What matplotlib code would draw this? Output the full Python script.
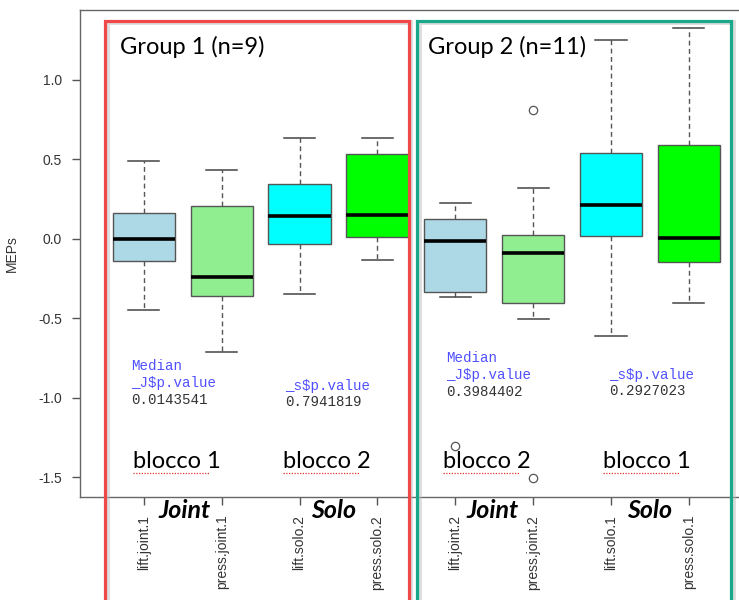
import matplotlib
matplotlib.use("Agg")
import matplotlib.pyplot as plt
from matplotlib.patches import Rectangle

# conditions, in plotting order
etichette = ["lift.joint.1", "press.joint.1", "lift.solo.2", "press.solo.2",
             "lift.joint.2", "press.joint.2", "lift.solo.1", "press.solo.1"]
colori = ["lightblue", "lightgreen", "cyan", "lime",
          "lightblue", "lightgreen", "cyan", "lime"]

# box statistics of MEPs per condition
mediane = [-0.004, -0.239, 0.145, 0.149, -0.016, -0.088, 0.212, 0.003]
q1 = [-0.142, -0.362, -0.035, 0.013, -0.333, -0.403, 0.019, -0.148]
q3 = [0.164, 0.204, 0.344, 0.533, 0.126, 0.025, 0.539, 0.587]
baffi_min = [-0.447, -0.711, -0.350, -0.134, -0.367, -0.507, -0.614, -0.406]
baffi_max = [0.487, 0.432, 0.631, 0.631, 0.225, 0.317, 1.252, 1.325]
outlier = [[], [], [], [], [-1.302], [0.809, -1.507], [], []]

# p-values of the median tests
pval_joint = ["0.0143541", "0.3984402"]
pval_solo = ["0.7941819", "0.2927023"]

W, H = 739, 600
fig = plt.figure(figsize=(W / 100, H / 100), dpi=100)


def fx(x):
    return x / W


def fy(y):
    return 1 - y / H


# axes box runs slightly off the right side of the canvas
ax = fig.add_axes([fx(80), fy(496.7), fx(752.7 - 80), fy(10) - fy(496.7)])

stats = []
for i in range(len(etichette)):
    stats.append({"med": mediane[i], "q1": q1[i], "q3": q3[i],
                  "whislo": baffi_min[i], "whishi": baffi_max[i],
                  "fliers": outlier[i], "label": etichette[i]})

bp = ax.bxp(stats, positions=range(1, 9), widths=0.8, patch_artist=True,
            showfliers=True,
            boxprops=dict(edgecolor="#555555", linewidth=1.0),
            medianprops=dict(color="black", linewidth=2.6, solid_capstyle="butt"),
            whiskerprops=dict(color="#555555", linewidth=1.0, linestyle=(0, (3.5, 2.5))),
            capprops=dict(color="#444444", linewidth=1.1),
            capwidths=0.4,
            flierprops=dict(marker="o", markersize=6, markerfacecolor="none",
                            markeredgecolor="#555555", markeredgewidth=0.9))
for box, c in zip(bp["boxes"], colori):
    box.set_facecolor(c)

ax.set_xlim(0.18, 8.82)
ax.set_ylim(-1.623, 1.438)
ax.set_yticks([-1.5, -1.0, -0.5, 0.0, 0.5, 1.0])
ax.set_yticklabels(["-1.5", "-1.0", "-0.5", "0.0", "0.5", "1.0"])
ax.set_xticks(range(1, 9))
ax.set_xticklabels(etichette, rotation=90, va="top")
ax.tick_params(axis="both", length=6, width=1.0, color="#555555",
               labelcolor="#333333", labelsize=10)
ax.tick_params(axis="y", pad=7)
ax.tick_params(axis="x", pad=7)
for lab in ax.get_xticklabels() + ax.get_yticklabels():
    lab.set_family("Liberation Sans")
ax.set_ylabel("MEPs", fontsize=10, color="#333333", family="Liberation Sans",
              labelpad=14)
for s in ["left", "top", "bottom", "right"]:
    ax.spines[s].set_color("#666666")
    ax.spines[s].set_linewidth(1.0)

# slide overlays: group frames with a soft shadow
cornici = [(105, 409, "#f04848"), (417, 731, "#1aa88a")]
for x0, x1, col in cornici:
    ombra = Rectangle((fx(x0 + 1.5), fy(640)), fx(x1 - x0), fy(22.5) - fy(640),
                      transform=fig.transFigure, fill=False,
                      edgecolor="#bbbbbb", linewidth=3.5, alpha=0.5)
    fig.add_artist(ombra)
    fig.add_artist(Rectangle((fx(x0), fy(640)), fx(x1 - x0), fy(21) - fy(640),
                             transform=fig.transFigure, fill=False,
                             edgecolor=col, linewidth=2.3))

titolo = dict(family="Lato", fontsize=17, color="black", va="center", ha="left")
fig.text(fx(120), fy(47), "Group 1 (n=9)", **titolo)
fig.text(fx(428), fy(47), "Group 2 (n=11)", **titolo)

blocchi = [(133, "blocco 1"), (283, "blocco 2"), (443, "blocco 2"), (603, "blocco 1")]
for x, t in blocchi:
    fig.text(fx(x), fy(462), t, family="Lato", fontsize=17, color="black",
             va="center", ha="left")
    # spell-check underline below "blocco"
    fig.add_artist(plt.Line2D([fx(x), fx(x + 77)], [fy(472.5), fy(472.5)],
                              transform=fig.transFigure, color="#e03030",
                              linewidth=0.9, linestyle=(0, (1, 1.2))))

condizioni = [(185, "Joint"), (334, "Solo"), (493, "Joint"), (650, "Solo")]
for x, t in condizioni:
    fig.text(fx(x), fy(510), t, family="Lato", fontsize=18, fontweight="bold",
             fontstyle="italic", color="black", va="center", ha="center")

mono = dict(family="Liberation Mono", fontsize=10.2, va="center", ha="left")
blu = "#5050ff"
testi_j = [(131, 365.7), (446, 357.7)]
for (x, y), p in zip(testi_j, pval_joint):
    fig.text(fx(x), fy(y), "Median", color=blu, **mono)
    fig.text(fx(x), fy(y + 17), "_J$p.value", color=blu, **mono)
    fig.text(fx(x), fy(y + 34), p, color="#333333", **mono)
testi_s = [(285, 386), (609, 374.7)]
for (x, y), p in zip(testi_s, pval_solo):
    fig.text(fx(x), fy(y), "_s$p.value", color=blu, **mono)
    fig.text(fx(x), fy(y + 16.5), p, color="#333333", **mono)

fig.savefig("out.png", dpi=100)
